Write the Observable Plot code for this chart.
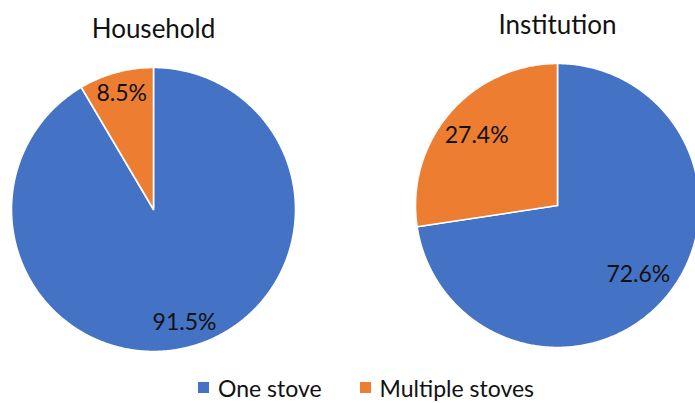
<!DOCTYPE html>
<html>
<head>
<meta charset="utf-8">
<script src="https://cdn.jsdelivr.net/npm/d3@7"></script>
<script src="https://cdn.jsdelivr.net/npm/@observablehq/plot@0.6"></script>
<style>
  body { margin: 0; background: #fff; font-family: Lato, "Open Sans", sans-serif; }
  #chart { width: 695px; }
  #legend { display: flex; align-items: center; height: 31px; padding-left: 198px; font-size: 23px; color: #111; }
  #legend .item { display: flex; align-items: center; margin-right: 38px; }
  #legend .sw { width: 11px; height: 11px; margin-right: 9px; }
</style>
</head>
<body>
<div id="chart"></div>
<script>
// Share of stove ownership (%), per respondent group
const groups = ["Household", "Institution"];
const categories = ["One stove", "Multiple stoves"];
const householdShares = [91.5, 8.5];
const institutionShares = [72.6, 27.4];
const colors = ["#4472C4", "#ED7D31"];

// Layout (pixels)
const W = 695, H = 372, R = 142;
const centers = {Household: [153, 209], Institution: [557, 205]};
const titleLift = 180;
const labelFont = 23, titleFont = 26;

const sharesByGroup = {Household: householdShares, Institution: institutionShares};

// Polygon vertices of each slice, clockwise from 12 o'clock, in radius units
const slices = [];
const labels = [];
const ctx = document.createElement("canvas").getContext("2d");
ctx.font = `${labelFont}px Lato`;
for (const g of groups) {
  const [cx, cy] = centers[g].map(v => v / R);
  const vals = sharesByGroup[g];
  const total = d3.sum(vals);
  let a0 = 0;
  vals.forEach((v, i) => {
    const a1 = a0 + (v / total) * 2 * Math.PI;
    const key = g + "|" + categories[i];
    slices.push({key, category: categories[i], x: cx, y: cy});
    const n = Math.max(2, Math.ceil((a1 - a0) / (Math.PI / 360)));
    for (let k = 0; k <= n; k++) {
      const a = a0 + (a1 - a0) * k / n;
      slices.push({key, category: categories[i], x: cx + Math.sin(a), y: cy - Math.cos(a)});
    }
    // label placed at the inside end of the slice so its box stays within the rim
    const am = (a0 + a1) / 2;
    const text = v.toFixed(1) + "%";
    const hw = ctx.measureText(text).width / 2 / R;
    const hh = labelFont * 0.36 / R;
    const ax = Math.abs(Math.sin(am)), ay = Math.abs(Math.cos(am));
    const L = (R - 5) / R;
    const b = ax * hw + ay * hh;
    const d = -b + Math.sqrt(b * b - (hw * hw + hh * hh - L * L));
    labels.push({text, x: cx + d * Math.sin(am), y: cy - d * Math.cos(am)});
    a0 = a1;
  });
}

const titles = groups.map(g => ({text: g, x: centers[g][0] / R, y: (centers[g][1] - titleLift) / R}));

const plot = Plot.plot({
  width: W,
  height: H,
  margin: 0,
  style: {fontFamily: "Lato, 'Open Sans', sans-serif", background: "#fff", overflow: "hidden"},
  x: {domain: [0, W / R], range: [0, W], axis: null},
  y: {domain: [0, H / R], range: [0, H], axis: null},
  color: {domain: categories, range: colors},
  marks: [
    Plot.line(slices, {x: "x", y: "y", z: "key", fill: "category", stroke: "white", strokeWidth: 1.6, curve: "linear-closed"}),
    Plot.text(labels, {x: "x", y: "y", text: "text", fontSize: labelFont, fill: "#111"}),
    Plot.text(titles, {x: "x", y: "y", text: "text", fontSize: titleFont, fill: "#111"})
  ]
});
document.getElementById("chart").append(plot);

// Legend below the pies
const legend = document.createElement("div");
legend.id = "legend";
categories.forEach((c, i) => {
  const item = document.createElement("div");
  item.className = "item";
  const sw = document.createElement("span");
  sw.className = "sw";
  sw.style.background = colors[i];
  const lab = document.createElement("span");
  lab.textContent = c;
  item.append(sw, lab);
  legend.append(item);
});
document.getElementById("chart").append(legend);
</script>
</body>
</html>
